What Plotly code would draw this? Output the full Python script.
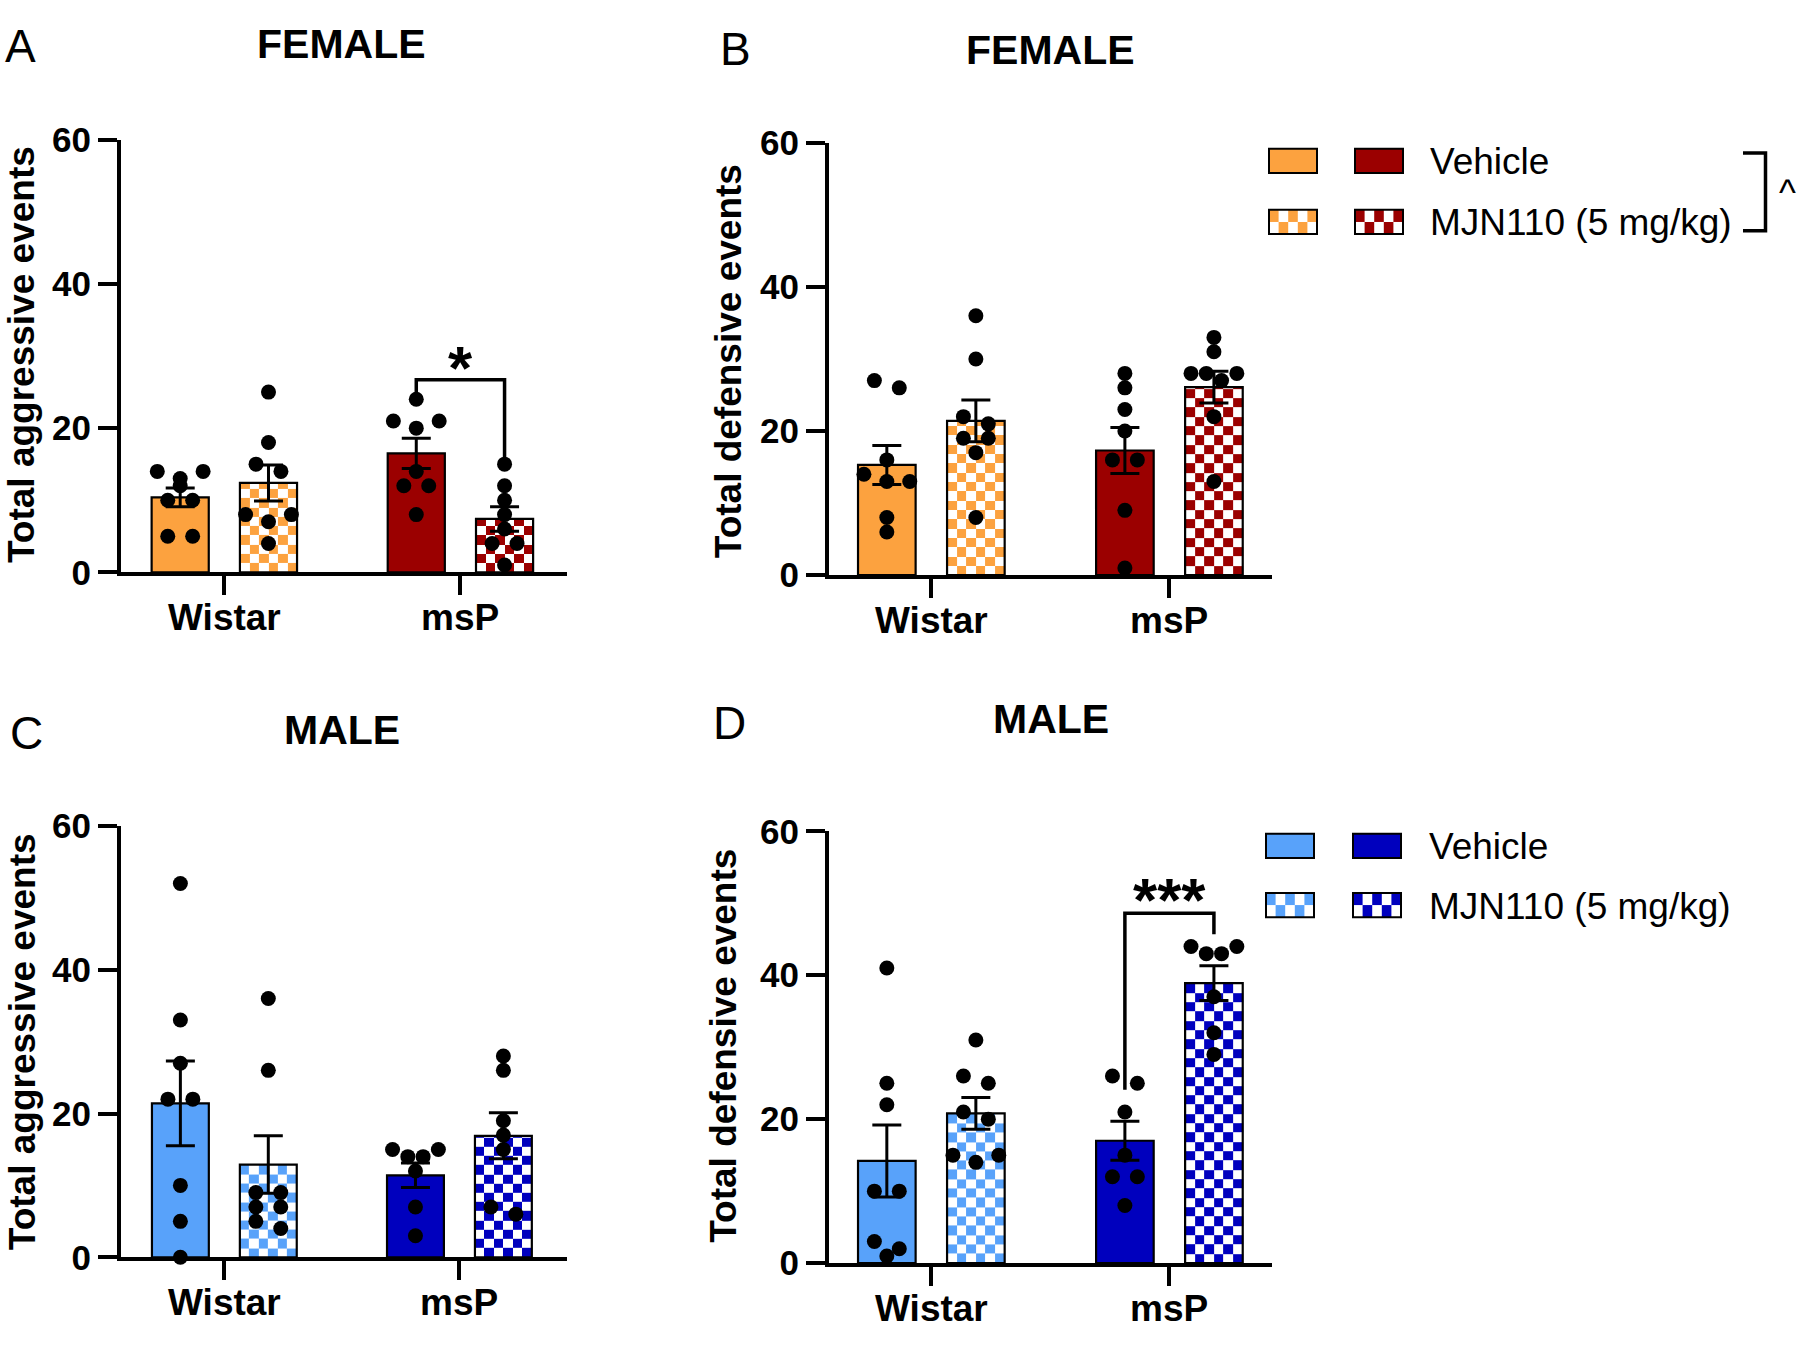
import numpy as np
import plotly.graph_objects as go

W, H = 1800, 1345
FONT = "Liberation Sans, Arial, Helvetica, sans-serif"

# ---------------- data ----------------
categories = ["Wistar", "msP"]
legend_labels = ["Vehicle", "MJN110 (5 mg/kg)"]
y_ticks = [0, 20, 40, 60]

# Panel A: FEMALE, total aggressive events
A_veh_mean = [10.4, 16.5]
A_veh_sem = [1.3, 2.1]
A_mjn_mean = [12.4, 7.4]
A_mjn_sem = [2.5, 1.7]
A_veh_points = [[14, 14, 13, 12, 10, 10, 5, 5], [24, 21, 21, 20, 14, 12, 12, 8]]
A_mjn_points = [[25, 18, 15, 14, 8, 8, 7, 4], [15, 12, 10, 8, 6, 4, 4, 1]]

# Panel B: FEMALE, total defensive events
B_veh_mean = [15.3, 17.3]
B_veh_sem = [2.7, 3.2]
B_mjn_mean = [21.4, 26.1]
B_mjn_sem = [2.9, 2.2]
B_veh_points = [[27, 26, 16, 14, 13, 13, 8, 6], [28, 26, 23, 20, 16, 16, 9, 1]]
B_mjn_points = [[36, 30, 22, 21, 19, 19, 17, 8], [33, 31, 28, 28, 28, 27, 22, 13]]

# Panel C: MALE, total aggressive events
C_veh_mean = [21.4, 11.4]
C_veh_sem = [5.9, 1.7]
C_mjn_mean = [12.9, 16.9]
C_mjn_sem = [4.0, 3.2]
C_veh_points = [[52, 33, 27, 22, 22, 10, 5, 0], [15, 15, 14, 14, 12, 7, 3]]
C_mjn_points = [[36, 26, 9, 9, 7, 7, 5, 4], [28, 26, 19, 17, 15, 7, 6]]

# Panel D: MALE, total defensive events
D_veh_mean = [14.2, 17.0]
D_veh_sem = [5.0, 2.7]
D_mjn_mean = [20.8, 38.9]
D_mjn_sem = [2.2, 2.4]
D_veh_points = [[41, 25, 22, 10, 10, 3, 2, 1], [26, 25, 21, 15, 12, 12, 8]]
D_mjn_points = [[31, 26, 25, 21, 20, 15, 15, 14], [44, 44, 43, 43, 37, 32, 29]]

# significance brackets: (left leg bottom, top, right leg bottom), star level
A_sig_label = "*"
A_sig_levels = [24.5, 26.7, 15.2]
A_sig_star = 30.4
D_sig_label = "***"
D_sig_levels = [24.1, 48.6, 45.7]
D_sig_star = 52.4

female_colors = ["#FCA23F", "#9B0000"]
male_colors = ["#58A2FA", "#0000BE"]

# ---------------- layout helpers ----------------
def px_x(p):
    return p / W


def px_y(p):
    return 1 - p / H


BAR_OFF = 0.187
BAR_W = 0.242
LW = 3.5

panels = [
    dict(n=1, letter="A", title="FEMALE", ylabel="Total aggressive events",
         xd=(119, 567), yd=(123.5, 570.5), cats=(223, 460), colors=female_colors,
         veh=(A_veh_mean, A_veh_sem, A_veh_points), mjn=(A_mjn_mean, A_mjn_sem, A_mjn_points),
         letter_pos=(3, 26.5), title_pos=(341.5, 24.5), ylab_pos=(22, 345)),
    dict(n=2, letter="B", title="FEMALE", ylabel="Total defensive events",
         xd=(827, 1272), yd=(126.5, 573.5), cats=(930, 1169), colors=female_colors,
         veh=(B_veh_mean, B_veh_sem, B_veh_points), mjn=(B_mjn_mean, B_mjn_sem, B_mjn_points),
         letter_pos=(718, 29.6), title_pos=(1050, 30.6), ylab_pos=(728.4, 351)),
    dict(n=3, letter="C", title="MALE", ylabel="Total aggressive events",
         xd=(119, 567), yd=(830, 1276), cats=(223, 459), colors=male_colors,
         veh=(C_veh_mean, C_veh_sem, C_veh_points), mjn=(C_mjn_mean, C_mjn_sem, C_mjn_points),
         letter_pos=(7.5, 734), title_pos=(342.4, 731.5), ylab_pos=(22, 1052.7)),
    dict(n=4, letter="D", title="MALE", ylabel="Total defensive events",
         xd=(827, 1272), yd=(835.5, 1282), cats=(930, 1169), colors=male_colors,
         veh=(D_veh_mean, D_veh_sem, D_veh_points), mjn=(D_mjn_mean, D_mjn_sem, D_mjn_points),
         letter_pos=(710.5, 723.6), title_pos=(1050.7, 719.5), ylab_pos=(723.5, 1056.9)),
]


def swarm_offsets(values, thresh, spacing=25.0, maxspan=46.0):
    order = sorted(range(len(values)), key=lambda k: -values[k])
    rows = []
    for k in order:
        if rows and values[rows[-1][0]] - values[k] < thresh:
            rows[-1].append(k)
        else:
            rows.append([k])
    offs = [0.0] * len(values)
    for row in rows:
        n = len(row)
        if n == 1:
            continue
        s = min(spacing, maxspan / (n - 1))
        slots = [(j - (n - 1) / 2) * s for j in range(n)]
        seq = []
        lo, hi, left = 0, n - 1, True
        while lo <= hi:
            if left:
                seq.append(lo)
                lo += 1
            else:
                seq.append(hi)
                hi -= 1
            left = not left
        for k, si in zip(row, seq):
            offs[k] = slots[si]
    return offs


fig = go.Figure()
annotations = []
shapes = []
layout_axes = {}

for p in panels:
    n = p["n"]
    xa = "x" if n == 1 else f"x{n}"
    ya = "y" if n == 1 else f"y{n}"
    c0, c1 = p["cats"]
    ppc = c1 - c0
    x_lo = -(c0 - p["xd"][0]) / ppc
    x_hi = 1 + (p["xd"][1] - c1) / ppc
    ytop, ybot = p["yd"]
    ppu = (ybot - ytop) / 60.0
    half = LW / 2

    layout_axes[f"xaxis{'' if n == 1 else n}"] = dict(
        domain=[px_x(p["xd"][0] + half), px_x(p["xd"][1])],
        range=[x_lo, x_hi], anchor=ya, tickmode="array", tickvals=[0, 1],
        ticktext=categories, showticklabels=False, ticks="outside", ticklen=19,
        tickwidth=LW, tickcolor="black", showline=True, linewidth=LW,
        linecolor="black", showgrid=False, zeroline=False, fixedrange=True,
    )
    layout_axes[f"yaxis{'' if n == 1 else n}"] = dict(
        domain=[px_y(ybot - half), px_y(ytop)],
        range=[0, 60], anchor=xa, tickmode="array", tickvals=y_ticks,
        ticks="outside", ticklen=19, tickwidth=LW, tickcolor="black",
        showline=True, linewidth=LW, linecolor="black", showgrid=False,
        zeroline=False, fixedrange=True,
        tickfont=dict(family=FONT, size=35, color="black", weight="bold"),
    )

    veh_mean, veh_sem, veh_pts = p["veh"]
    mjn_mean, mjn_sem, mjn_pts = p["mjn"]
    cols = p["colors"]

    # checkerboard fill of MJN bars (heatmap cells on the data axes)
    ncol = 6
    cell_u = (BAR_W * ppc / ncol) / ppu
    for i in range(len(categories)):
        xc = i + BAR_OFF
        x_edges = np.linspace(xc - BAR_W / 2, xc + BAR_W / 2, ncol + 1)
        val = mjn_mean[i]
        ye = list(np.arange(0, val, cell_u))
        if val - ye[-1] < 0.15 * cell_u and len(ye) > 1:
            ye = ye[:-1]
        ye.append(val)
        z = [[(r + c) % 2 for c in range(ncol)] for r in range(len(ye) - 1)]
        fig.add_trace(go.Heatmap(
            x=x_edges, y=ye, z=z, zmin=0, zmax=1, showscale=False,
            colorscale=[[0, "white"], [0.5, "white"], [0.5, cols[i]], [1, cols[i]]],
            hoverinfo="skip", xaxis=xa, yaxis=ya))

    fig.add_trace(go.Bar(
        x=[0, 1], y=veh_mean, width=BAR_W, offset=-BAR_OFF - BAR_W / 2,
        marker=dict(color=cols, line=dict(color="black", width=2.2)),
        showlegend=False, xaxis=xa, yaxis=ya))
    fig.add_trace(go.Bar(
        x=[0, 1], y=mjn_mean, width=BAR_W, offset=BAR_OFF - BAR_W / 2,
        marker=dict(color="rgba(0,0,0,0)", line=dict(color="black", width=2.2)),
        showlegend=False, xaxis=xa, yaxis=ya))

    # individual points
    thresh = 14.0 / ppu
    for pts_all, sign in ((veh_pts, -1), (mjn_pts, 1)):
        xs, ys = [], []
        for i, pts in enumerate(pts_all):
            offs = swarm_offsets(pts, thresh)
            for v, o in zip(pts, offs):
                xs.append(i + sign * BAR_OFF + o / ppc)
                ys.append(v)
        fig.add_trace(go.Scatter(
            x=xs, y=ys, mode="markers", cliponaxis=False,
            marker=dict(size=15, color="black", line=dict(width=0)),
            showlegend=False, xaxis=xa, yaxis=ya))

    # mean +/- SEM
    for mean, sem, sign in ((veh_mean, veh_sem, -1), (mjn_mean, mjn_sem, 1)):
        fig.add_trace(go.Scatter(
            x=[0 + sign * BAR_OFF, 1 + sign * BAR_OFF], y=mean, mode="markers",
            marker=dict(size=1, color="rgba(0,0,0,0)"),
            error_y=dict(type="data", array=sem, color="black", thickness=3, width=14.5),
            showlegend=False, xaxis=xa, yaxis=ya))

    # category labels (placed on the x data axis)
    for i, cat in enumerate(categories):
        annotations.append(dict(
            x=i, y=px_y(ybot + 45), xref=xa, yref="paper", text=cat, showarrow=False,
            xanchor="center", yanchor="middle",
            font=dict(family=FONT, size=37, color="black", weight="bold")))

    # texts
    annotations.append(dict(
        x=px_x(p["letter_pos"][0]), y=px_y(p["letter_pos"][1]), xref="paper", yref="paper",
        text=p["letter"], showarrow=False, xanchor="left", yanchor="middle",
        font=dict(family=FONT, size=46, color="black")))
    annotations.append(dict(
        x=px_x(p["title_pos"][0]), y=px_y(p["title_pos"][1]), xref="paper", yref="paper",
        text=p["title"], showarrow=False, xanchor="center", yanchor="middle",
        font=dict(family=FONT, size=41, color="black", weight="bold")))
    annotations.append(dict(
        x=px_x(p["ylab_pos"][0]), y=px_y(p["ylab_pos"][1]), xref="paper", yref="paper",
        text=p["ylabel"], showarrow=False, textangle=-90, xanchor="center", yanchor="middle",
        font=dict(family=FONT, size=37, color="black", weight="bold")))


def add_bracket(n, levels, star_y, label):
    xa = "x" if n == 1 else f"x{n}"
    ya = "y" if n == 1 else f"y{n}"
    xl, xr = 1 - BAR_OFF, 1 + BAR_OFF
    fig.add_trace(go.Scatter(
        x=[xl, xl, xr, xr], y=[levels[0], levels[1], levels[1], levels[2]],
        mode="lines", line=dict(color="black", width=LW), cliponaxis=False,
        showlegend=False, xaxis=xa, yaxis=ya))
    annotations.append(dict(
        x=1, y=star_y, xref=xa, yref=ya, text=label, showarrow=False,
        xanchor="center", yanchor="middle", yshift=-14,
        font=dict(family=FONT, size=62, color="black", weight="bold")))


add_bracket(1, A_sig_levels, A_sig_star, A_sig_label)
add_bracket(4, D_sig_levels, D_sig_star, D_sig_label)


# ---------------- custom legends ----------------
def legend(sw_x, rows_y, text_x, colors):
    sw_w, sw_h = 48, 25
    for r, yc in enumerate(rows_y):
        y0, y1 = yc - sw_h / 2, yc + sw_h / 2
        for xs, col in zip(sw_x, colors):
            if r == 0:
                shapes.append(dict(type="rect", xref="paper", yref="paper",
                                   x0=px_x(xs), x1=px_x(xs + sw_w), y0=px_y(y1), y1=px_y(y0),
                                   fillcolor=col, line=dict(color="black", width=2)))
            else:
                shapes.append(dict(type="rect", xref="paper", yref="paper",
                                   x0=px_x(xs), x1=px_x(xs + sw_w), y0=px_y(y1), y1=px_y(y0),
                                   fillcolor="white", line=dict(width=0)))
                nc, nr = 5, 2
                cw, ch = sw_w / nc, sw_h / nr
                for ci in range(nc):
                    for ri in range(nr):
                        if (ci + ri) % 2 == 0:
                            shapes.append(dict(
                                type="rect", xref="paper", yref="paper",
                                x0=px_x(xs + ci * cw), x1=px_x(xs + (ci + 1) * cw),
                                y0=px_y(y0 + (ri + 1) * ch), y1=px_y(y0 + ri * ch),
                                fillcolor=col, line=dict(width=0)))
                shapes.append(dict(type="rect", xref="paper", yref="paper",
                                   x0=px_x(xs), x1=px_x(xs + sw_w), y0=px_y(y1), y1=px_y(y0),
                                   fillcolor="rgba(0,0,0,0)", line=dict(color="black", width=2)))
        annotations.append(dict(
            x=px_x(text_x), y=px_y(yc + 1), xref="paper", yref="paper", text=legend_labels[r],
            showarrow=False, xanchor="left", yanchor="middle",
            font=dict(family=FONT, size=37, color="black")))


legend((1269, 1355), (145, 208), 1428, female_colors)
legend((1266, 1353), (850.5, 911.5), 1427, male_colors)

# bracket with "^" next to the female legend
shapes.append(dict(type="path", xref="paper", yref="paper",
                   path=f"M {px_x(1743)},{px_y(137)} L {px_x(1765.5)},{px_y(137)} "
                        f"L {px_x(1765.5)},{px_y(217)} L {px_x(1743)},{px_y(217)}",
                   line=dict(color="black", width=LW)))
annotations.append(dict(x=px_x(1787.5), y=px_y(177.5), xref="paper", yref="paper", text="^",
                        showarrow=False, xanchor="center", yanchor="middle",
                        font=dict(family=FONT, size=36, color="black")))

fig.update_layout(
    width=W, height=H, margin=dict(l=0, r=0, t=0, b=0),
    paper_bgcolor="white", plot_bgcolor="white", barmode="overlay",
    showlegend=False, annotations=annotations, shapes=shapes,
    **layout_axes,
)

fig.write_html(
    "out.html",
    config={"displayModeBar": False},
    post_script="document.body.style.margin='0';document.body.style.padding='0';"
                "document.body.style.overflow='hidden';",
)
